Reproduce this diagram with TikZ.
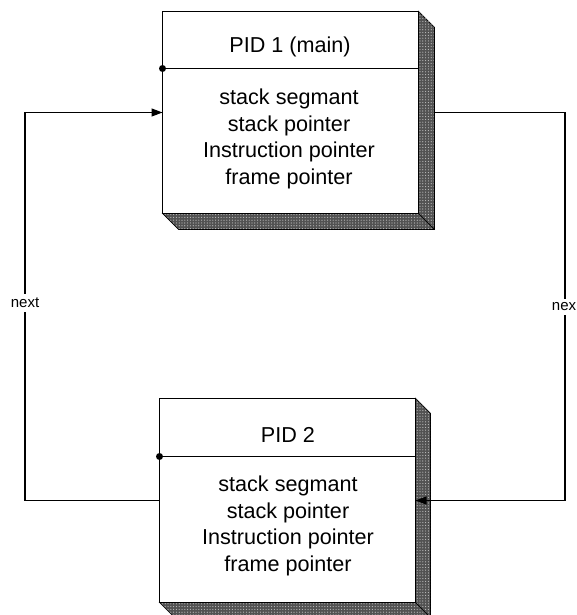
\documentclass[tikz,border=0pt]{standalone}
\usepackage{fontspec}
\setmainfont{Liberation Sans}
\usetikzlibrary{arrows.meta,patterns.meta,calc}
\begin{document}
\begin{tikzpicture}[x=1pt,y=1pt,
  frontbox/.style={draw=black, line width=1pt, fill=white, minimum width=255pt, inner sep=0pt},
  shadowface/.style={draw=black, line width=0.7pt, fill=black!68,
    postaction={pattern={Dots[radius=0.6pt,distance=2.8pt]}, pattern color=white!75!black}},
  divider/.style={draw=black, line width=0.9pt},
  pinhead/.style={circle, fill=black, inner sep=0pt, minimum size=7pt},
  boxtext/.style={font=\fontsize{21.6}{26.7}\selectfont, align=center, inner sep=0pt},
  conn/.style={draw=black, line width=1.2pt},
  tip/.style={-{Triangle[length=11pt,width=8pt]}},
  edgelabel/.style={font=\fontsize{15}{17}\selectfont, fill=white, inner xsep=1.5pt, inner ysep=4pt}
]
\fill[white] (0,0) rectangle (576,615);
\useasboundingbox (0,0) rectangle (576,615);

% Box 1
\node[frontbox, minimum height=201pt] (b1) at (290.5,502.5) {};
\filldraw[shadowface] (b1.north east) -- ($(b1.north east)+(16,-16)$) -- ($(b1.south east)+(16,-16)$)
   -- ($(b1.south west)+(16,-16)$) -- (b1.south west) -- (b1.south east) -- cycle;
\draw[line width=0.7pt] (b1.south east) -- ($(b1.south east)+(16,-16)$);
\draw[frontbox] (b1.south west) rectangle (b1.north east);
\coordinate (d1) at ($(b1.north west)+(0,-57)$);
\draw[divider] (d1) -- (d1 -| b1.east);
\node[pinhead] (p1) at (d1) {};
\node[boxtext] (t1) at (290,568) {PID 1 (main)};
\node[boxtext] (s1) at (289,476) {stack segmant\\stack pointer\\Instruction pointer\\frame pointer};

% Box 2
\node[frontbox, minimum height=203pt] (b2) at (287.5,114.5) {};
\filldraw[shadowface] (b2.north east) -- ($(b2.north east)+(15,-15)$) -- ($(b2.south east)+(15,-15)$)
   -- ($(b2.south west)+(15,-15)$) -- (b2.south west) -- (b2.south east) -- cycle;
\draw[line width=0.7pt] (b2.south east) -- ($(b2.south east)+(15,-15)$);
\draw[frontbox] (b2.south west) rectangle (b2.north east);
\coordinate (d2) at ($(b2.north west)+(0,-58)$);
\draw[divider] (d2) -- (d2 -| b2.east);
\node[pinhead] (p2) at (d2) {};
\node[boxtext] (t2) at (288,180) {PID 2};
\node[boxtext] (s2) at (288,89) {stack segmant\\stack pointer\\Instruction pointer\\frame pointer};

% Connectors
\coordinate (lx) at (25,0);
\coordinate (rx) at (565,0);
\coordinate (b1s) at ($(b1.east)+(16,0)$);
\draw[conn, tip] (b2.west) -- (b2.west -| lx) -- (b1.west -| lx) -- (b1.west);
\draw[conn, tip] (b1s) -- (b1s -| rx) -- (b2.east -| rx) -- (b2.east);
\node[edgelabel] (n1) at (25,312) {next};
\node[edgelabel] (n2) at (564,308) {nex};
\end{tikzpicture}
\end{document}
